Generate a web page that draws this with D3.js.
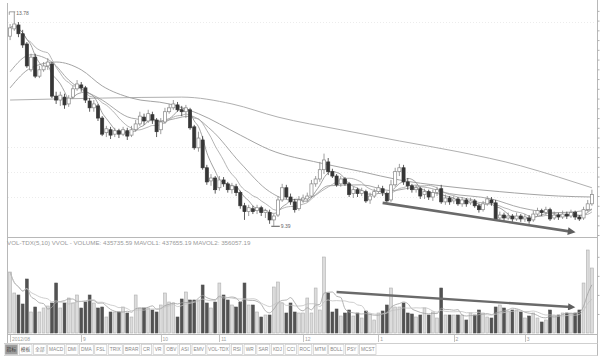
<!DOCTYPE html>
<html><head><meta charset="utf-8">
<script src="https://cdn.jsdelivr.net/npm/d3@7"></script>
<style>html,body{margin:0;padding:0;background:#fff;}svg{display:block;font-family:"Liberation Sans",Arial,sans-serif;}</style>
</head><body><svg id="c" width="604" height="362"></svg>
<script>
const open = [13.28,13.43,13.51,13.33,13.12,12.59,12.85,12.46,12.59,12.67,
 12.71,12.05,11.97,12.03,11.89,12.03,12.20,12.28,12.22,11.95,
 11.81,11.85,11.60,11.30,11.36,11.27,11.34,11.27,11.34,11.25,
 11.36,11.48,11.62,11.54,11.67,11.56,11.36,11.52,11.73,11.81,
 11.87,11.77,11.73,11.77,11.42,10.99,11.15,10.58,10.31,10.37,
 10.17,10.33,10.25,10.13,10.19,10.07,9.80,9.68,9.74,9.70,
 9.76,9.66,9.66,9.51,9.61,9.92,10.17,9.98,9.88,9.74,
 9.92,9.94,10.00,10.25,10.35,10.54,10.70,10.50,10.41,10.25,
 10.35,10.25,10.05,10.13,10.05,10.09,9.92,10.00,10.09,10.15,
 10.05,9.92,10.23,10.50,10.58,10.29,10.21,10.13,10.15,10.03,
 10.09,9.98,10.07,10.15,9.88,9.96,9.90,9.94,9.84,9.92,
 9.86,9.90,9.80,9.72,9.84,9.92,9.86,9.55,9.61,9.55,
 9.59,9.53,9.59,9.53,9.55,9.51,9.63,9.70,9.66,9.72,
 9.55,9.61,9.57,9.63,9.59,9.66,9.57,9.55,9.72,9.84];
const high = [13.53,13.78,13.57,13.41,13.16,12.92,12.92,12.67,12.75,12.83,
 12.75,12.14,12.14,12.10,12.07,12.26,12.38,12.34,12.26,12.01,
 11.97,11.89,11.64,11.44,11.42,11.40,11.38,11.42,11.40,11.44,
 11.56,11.73,11.69,11.77,11.73,11.60,11.60,11.81,11.89,11.97,
 11.93,11.85,11.87,11.81,11.46,11.32,11.23,10.64,10.45,10.41,
 10.41,10.39,10.29,10.27,10.25,10.11,9.86,9.82,9.80,9.82,
 9.80,9.74,9.72,9.63,10.00,10.25,10.23,10.05,9.94,10.00,
 10.03,10.07,10.33,10.41,10.70,10.87,10.78,10.56,10.45,10.41,
 10.39,10.29,10.19,10.17,10.17,10.13,10.07,10.15,10.23,10.21,
 10.09,10.33,10.58,10.66,10.64,10.37,10.25,10.23,10.19,10.15,
 10.13,10.13,10.19,10.23,10.03,10.00,10.00,9.98,9.98,9.96,
 9.96,9.94,9.84,9.90,10.00,9.98,9.92,9.68,9.66,9.66,
 9.63,9.66,9.63,9.63,9.61,9.70,9.76,9.74,9.78,9.76,
 9.68,9.66,9.70,9.68,9.72,9.70,9.61,9.78,9.92,10.13];
const low = [13.20,13.39,13.26,13.04,12.63,12.55,12.42,12.42,12.55,12.59,
 12.01,11.89,11.85,11.79,11.83,11.99,12.16,12.14,11.91,11.73,
 11.73,11.54,11.23,11.21,11.17,11.21,11.19,11.23,11.15,11.21,
 11.32,11.44,11.46,11.50,11.48,11.21,11.27,11.48,11.69,11.77,
 11.73,11.64,11.60,11.36,10.95,10.91,10.54,10.23,10.21,10.05,
 10.11,10.19,10.07,10.05,10.00,9.74,9.51,9.59,9.63,9.63,
 9.59,9.55,9.43,9.39,9.57,9.88,9.94,9.82,9.66,9.70,
 9.86,9.88,9.96,10.19,10.29,10.45,10.43,10.37,10.19,10.19,
 10.21,9.98,9.96,9.98,10.00,9.86,9.84,9.96,10.05,10.00,
 9.86,9.88,10.19,10.41,10.23,10.13,10.07,10.07,9.94,9.94,
 9.92,9.90,10.00,9.84,9.82,9.82,9.84,9.80,9.78,9.78,
 9.82,9.76,9.66,9.68,9.80,9.80,9.49,9.49,9.49,9.51,
 9.47,9.49,9.47,9.47,9.43,9.47,9.59,9.59,9.61,9.49,
 9.51,9.51,9.53,9.53,9.55,9.51,9.49,9.51,9.68,9.80];
const close = [13.45,13.53,13.33,13.10,12.67,12.85,12.46,12.59,12.67,12.75,
 12.05,11.97,12.07,11.87,12.01,12.20,12.30,12.22,11.97,11.81,
 11.89,11.60,11.27,11.38,11.25,11.34,11.27,11.36,11.23,11.36,
 11.48,11.64,11.54,11.69,11.56,11.32,11.52,11.73,11.81,11.89,
 11.77,11.73,11.81,11.40,10.99,11.19,10.58,10.29,10.37,10.13,
 10.33,10.25,10.13,10.21,10.07,9.80,9.68,9.76,9.68,9.76,
 9.66,9.70,9.51,9.59,9.92,10.17,9.98,9.88,9.72,9.92,
 9.96,10.00,10.25,10.35,10.54,10.74,10.50,10.41,10.23,10.35,
 10.25,10.03,10.13,10.05,10.11,9.90,10.00,10.09,10.17,10.07,
 9.90,10.23,10.50,10.58,10.29,10.21,10.13,10.17,10.00,10.09,
 9.98,10.07,10.13,9.88,9.96,9.88,9.94,9.84,9.92,9.84,
 9.90,9.80,9.72,9.84,9.94,9.86,9.53,9.61,9.55,9.59,
 9.53,9.59,9.53,9.57,9.49,9.63,9.70,9.66,9.72,9.53,
 9.61,9.57,9.63,9.59,9.66,9.57,9.53,9.72,9.84,10.03];
const volume = [320250,210000,199500,152250,283500,110250,136500,110250,131250,141750,
 157500,262500,131250,157500,183750,157500,199500,131250,162750,199500,
 157500,131250,136500,84000,110250,110250,110250,136500,105000,84000,
 199500,131250,131250,131250,120750,110250,147000,210000,162750,157500,
 84000,178500,215250,173250,173250,173250,252000,157500,131250,162750,
 262500,199500,173250,147000,136500,162750,262500,147000,147000,110250,
 84000,94500,94500,241500,267750,157500,105000,157500,110250,105000,
 105000,183750,105000,236250,120750,399000,210000,110250,126000,89250,
 105000,120750,89250,105000,78750,115500,99750,68250,105000,115500,
 147000,236250,136500,136500,157500,105000,99750,84000,94500,131250,
 94500,110250,78750,236250,94500,94500,94500,94500,94500,68250,
 105000,94500,120750,105000,84000,78750,136500,147000,131250,115500,
 120750,120750,110250,78750,89250,105000,78750,57750,68250,120750,
 94500,94500,105000,105000,105000,105000,120750,262500,435736,341250];

// long moving averages (index, price)
const ma20Idx = [0,5,10,14,22,29,36,43,48,55,62,67,72,76,84,91,98,105,115,122,131,139];
const ma20Val = [12.55,12.90,12.75,12.38,11.97,11.60,11.54,11.64,11.36,10.68,10.09,9.92,9.98,10.21,10.23,10.11,10.19,10.05,9.94,9.76,9.66,9.72];
const ma60Idx = [0,5,11,17,22,29,38,45,55,62,74,84,93,103,117,131,139];
const ma60Val = [12.22,12.63,12.75,12.59,12.26,12.01,11.89,11.69,11.25,10.95,10.68,10.50,10.33,10.21,10.09,10.00,9.98];
const ma120Idx = [0,22,41,53,64,79,93,107,122,131,139];
const ma120Val = [11.97,12.01,12.03,11.89,11.62,11.36,11.13,10.91,10.62,10.39,10.17];

const tickIdx = [0,17,36,50,70,88,106,123];
const tickLabels = ["2012/08","9","10","11","12","1","2","3"];
const gridPrices = [13.57,11.01,10.50,9.98];
const tabs = ["指标","模板","全部","MACD","DMI","DMA","FSL","TRIX","BRAR","CR","VR","OBV","ASI","EMV","VOL-TDX","RSI","WR","SAR","KDJ","CCI","ROC","MTM","BOLL","PSY","MCST"];
const volHeader = "VOL-TDX(5,10) VVOL -  VOLUME: 435735.59  MAVOL1: 437655.19  MAVOL2: 356057.19";
const highLabel = "13.78", lowLabel = "9.39";
const priceTrend = {from:[89, 9.86], to:[134, 9.27]};
const volTrend = {from:[78, 215000], to:[134, 136500]};

const N = close.length;
const svg = d3.select("#c");
const x = d3.scaleBand().domain(d3.range(N)).range([8, 594]);
const bw = x.bandwidth();
const xc = i => x(i) + bw / 2;
const y = d3.scaleLinear().domain([9.18, 13.92]).range([236, 5]);
const yv = d3.scaleLinear().domain([0, 450000]).range([333, 247.3]);

svg.append("defs").append("marker").attr("id","ah").attr("viewBox","0 0 10 10")
  .attr("refX",4).attr("refY",5).attr("markerWidth",3.4).attr("markerHeight",3.0).attr("orient","auto")
  .append("path").attr("d","M0,0L10,5L0,10z").attr("fill","#5e5e5e");

// faint grid
svg.append("g").selectAll("line").data(gridPrices).join("line")
  .attr("x1",8).attr("x2",596).attr("y1",d=>Math.round(y(d))+0.5).attr("y2",d=>Math.round(y(d))+0.5)
  .attr("stroke","#ececec").attr("stroke-dasharray","1,2");

// frame
const fr = svg.append("g").attr("stroke","#b8b8b8").attr("fill","none");
fr.append("line").attr("x1",7.5).attr("x2",7.5).attr("y1",3).attr("y2",343.5);
fr.append("line").attr("x1",597.5).attr("x2",597.5).attr("y1",0).attr("y2",356);
fr.append("line").attr("x1",7.5).attr("x2",597.5).attr("y1",237.5).attr("y2",237.5);
fr.append("line").attr("x1",7.5).attr("x2",597.5).attr("y1",334.5).attr("y2",334.5);
fr.append("line").attr("x1",4).attr("x2",597.5).attr("y1",343.5).attr("y2",343.5).attr("stroke","#cfcfcf");
fr.append("line").attr("x1",4).attr("x2",597.5).attr("y1",355.5).attr("y2",355.5).attr("stroke","#d6d6d6");

// right axes (labels cut off by the frame)
const ra = svg.append("g").attr("transform","translate(597.5,0)")
  .call(d3.axisRight(y).tickValues(d3.range(9.2, 13.95, 0.2)).tickSize(2).tickFormat(""));
ra.select(".domain").remove(); ra.selectAll("line").attr("stroke","#b0b0b0");
const rv = svg.append("g").attr("transform","translate(597.5,0)")
  .call(d3.axisRight(yv).tickValues([100000,200000,300000,400000]).tickSize(2).tickFormat(""));
rv.select(".domain").remove(); rv.selectAll("line").attr("stroke","#b0b0b0");

// moving averages
const movAvg = (arr, n) => arr.map((v, i) => d3.mean(arr.slice(Math.max(0, i - n + 1), i + 1)));
const ma5 = movAvg(close, 5), ma10 = movAvg(close, 10);
const lineP = d3.line().x(d => xc(d[0])).y(d => y(d[1])).curve(d3.curveMonotoneX);
const maG = svg.append("g").attr("fill","none");
maG.append("path").attr("d", lineP(ma120Idx.map((d,i)=>[d, ma120Val[i]]))).attr("stroke","#b0b0b0").attr("stroke-width",1);
maG.append("path").attr("d", lineP(ma60Idx.map((d,i)=>[d, ma60Val[i]]))).attr("stroke","#a4a4a4").attr("stroke-width",1);
maG.append("path").attr("d", lineP(ma20Idx.map((d,i)=>[d, ma20Val[i]]))).attr("stroke","#9e9e9e").attr("stroke-width",0.9);
maG.append("path").attr("d", lineP(ma10.map((d,i)=>[i,d]))).attr("stroke","#a2a2a2").attr("stroke-width",0.8);
maG.append("path").attr("d", lineP(ma5.map((d,i)=>[i,d]))).attr("stroke","#8a8a8a").attr("stroke-width",0.8);

// candles
const bodyW = Math.max(2, bw * 0.74);
const cg = svg.append("g");
const cd = d3.range(N).map(i => ({i, o: open[i], h: high[i], l: low[i], c: close[i], up: close[i] >= open[i]}));
cg.selectAll("line").data(cd).join("line")
  .attr("x1", d => xc(d.i)).attr("x2", d => xc(d.i))
  .attr("y1", d => y(d.h)).attr("y2", d => y(d.l))
  .attr("stroke", d => d.up ? "#858585" : "#363636").attr("stroke-width", 0.8);
cg.selectAll("rect").data(cd).join("rect")
  .attr("x", d => xc(d.i) - bodyW / 2).attr("width", bodyW)
  .attr("y", d => y(Math.max(d.o, d.c)))
  .attr("height", d => Math.max(0.8, Math.abs(y(d.o) - y(d.c))))
  .attr("fill", d => d.up ? "#ffffff" : "#363636")
  .attr("stroke", d => d.up ? "#858585" : "#363636").attr("stroke-width", 0.7);

// high / low labels
const iH = d3.maxIndex(high), iL = d3.minIndex(low);
const lab = svg.append("g").attr("fill","#666").attr("font-size","5px");
svg.append("path").attr("d", `M${xc(iH)-5},${y(high[iH])+3}V${y(high[iH])}H${xc(iH)+1}`).attr("stroke","#777").attr("fill","none").attr("stroke-width",0.7);
lab.append("text").attr("x", xc(iH) + 2).attr("y", y(high[iH]) + 3.5).text(highLabel);
svg.append("path").attr("d", `M${xc(iL)-2.5},${y(low[iL])+0.5}H${xc(iL)+6}`).attr("stroke","#555").attr("stroke-width",1);
lab.append("text").attr("x", xc(iL) + 7).attr("y", y(low[iL]) + 2.5).text(lowLabel);

// volume bars
const vw = Math.max(2, bw * 0.68);
svg.append("g").selectAll("rect").data(cd).join("rect")
  .attr("x", d => xc(d.i) - vw / 2).attr("width", vw)
  .attr("y", d => yv(volume[d.i])).attr("height", d => yv(0) - yv(volume[d.i]))
  .attr("fill", d => d.up ? "#dcdcdc" : "#525252")
  .attr("stroke", d => d.up ? "#b0b0b0" : "#525252").attr("stroke-width", 0.6);

const mv5 = movAvg(volume, 5), mv10 = movAvg(volume, 10);
const lineV = d3.line().x((d,i) => xc(i)).y(d => yv(d)).curve(d3.curveMonotoneX);
svg.append("path").attr("d", lineV(mv5)).attr("fill","none").attr("stroke","#a0a0a0").attr("stroke-width",0.8);
svg.append("path").attr("d", lineV(mv10)).attr("fill","none").attr("stroke","#c2c2c2").attr("stroke-width",0.8);

// trend arrows
svg.append("line").attr("x1", xc(priceTrend.from[0])).attr("y1", y(priceTrend.from[1]))
  .attr("x2", xc(priceTrend.to[0])).attr("y2", y(priceTrend.to[1]))
  .attr("stroke","#6a6a6a").attr("stroke-width",2.6).attr("marker-end","url(#ah)");
svg.append("line").attr("x1", xc(volTrend.from[0])).attr("y1", yv(volTrend.from[1]))
  .attr("x2", xc(volTrend.to[0])).attr("y2", yv(volTrend.to[1]))
  .attr("stroke","#6a6a6a").attr("stroke-width",2.4).attr("marker-end","url(#ah)");

// volume header
svg.append("text").attr("x", 7).attr("y", 245).attr("font-size","6.2px").attr("fill","#9a9a9a").text(volHeader);

// date axis
const dg = svg.append("g");
dg.selectAll("line").data(tickIdx).join("line")
  .attr("x1", d => Math.round(xc(d)) + 0.5).attr("x2", d => Math.round(xc(d)) + 0.5)
  .attr("y1", 334.5).attr("y2", 342).attr("stroke","#c4c4c4");
dg.selectAll("text").data(tickIdx).join("text")
  .attr("x", d => xc(d) + 1.8).attr("y", 341).attr("font-size","5px").attr("fill","#a0a0a0")
  .text((d,i) => tickLabels[i]);

// tab bar
const tg = svg.append("g").attr("font-size","4.8px");
const tmp = tg.selectAll("text.m").data(tabs).join("text").attr("class","m")
  .attr("font-family", d => /[\u4e00-\u9fff]/.test(d) ? "'Noto Sans CJK SC'" : null).text(d => d);
const widths = []; tmp.each(function(){ widths.push(this.getComputedTextLength() + 4.5); });
tmp.remove();
const gap = 1.6, total = d3.sum(widths) + gap * (tabs.length - 1);
const k = (376 - 5) / total;
let cx = 5; const tabPos = widths.map(w => { const p = [cx, w * k]; cx += (w + gap) * k; return p; });
tg.selectAll("rect").data(tabs).join("rect")
  .attr("x", (d,i) => tabPos[i][0]).attr("y", 344.5).attr("width", (d,i) => tabPos[i][1]).attr("height", 10)
  .attr("fill", (d,i) => i === 0 ? "#9c9c9c" : "#fff").attr("stroke","#c8c8c8").attr("stroke-width",0.7);
tg.selectAll("text.t").data(tabs).join("text").attr("class","t")
  .attr("x", (d,i) => tabPos[i][0] + tabPos[i][1] / 2).attr("y", 351.3).attr("text-anchor","middle")
  .attr("font-family", d => /[\u4e00-\u9fff]/.test(d) ? "'Noto Sans CJK SC'" : null)
  .attr("fill", (d,i) => i === 0 ? "#333" : (i === 1 ? "#555" : "#888")).text(d => d);
</script></body></html>
